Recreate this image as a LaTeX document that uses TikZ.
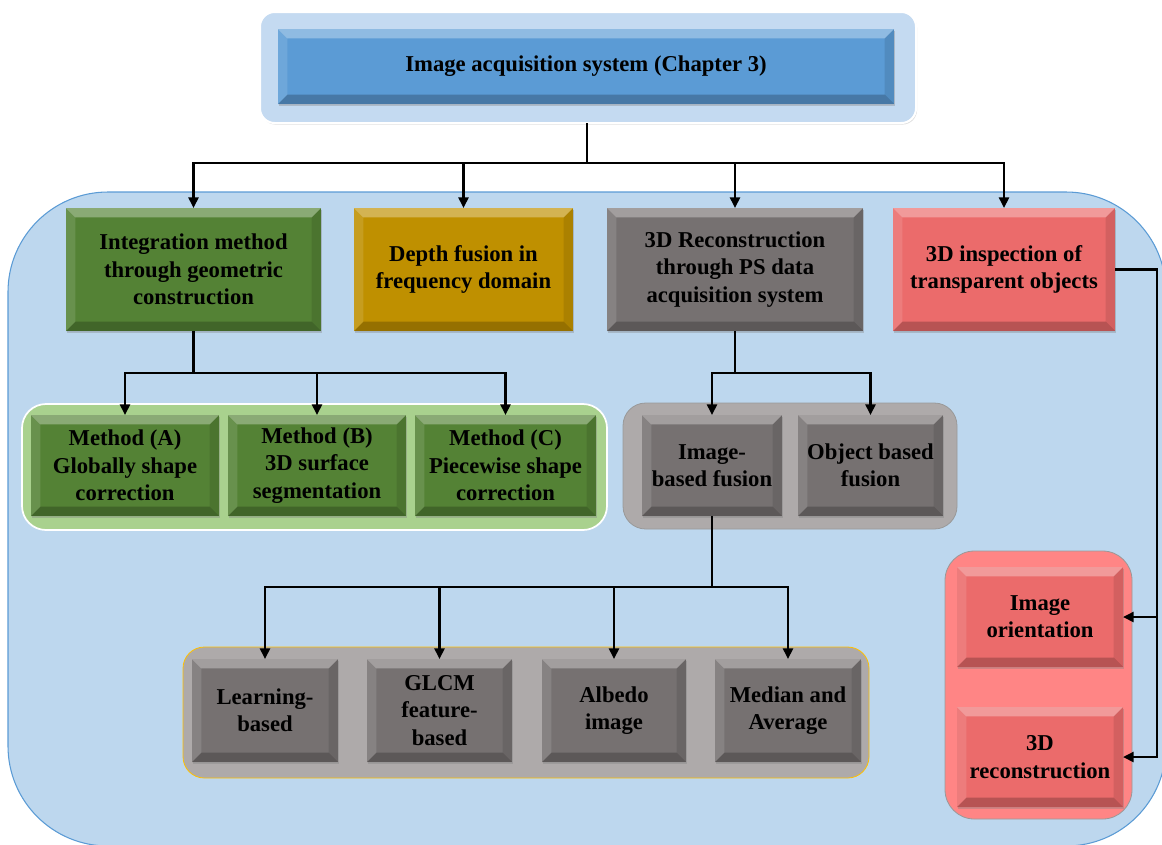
\documentclass[tikz,border=0pt]{standalone}
\usepackage{fontspec}
\setmainfont{Liberation Serif}
\usetikzlibrary{arrows.meta,shadows}

\definecolor{bgblue}{HTML}{BDD7EE}
\definecolor{bgedge}{HTML}{5B9BD5}
\definecolor{titleblue}{HTML}{5B9BD5}
\definecolor{outerblue}{HTML}{C4DAF1}
\definecolor{grn}{HTML}{548235}
\definecolor{grnlt}{HTML}{A9D18E}
\definecolor{gold}{HTML}{BF9000}
\definecolor{gry}{HTML}{767171}
\definecolor{grylt}{HTML}{AEAAAA}
\definecolor{rd}{HTML}{EB6B6B}
\definecolor{rdlt}{HTML}{FF8585}
\definecolor{amber}{HTML}{FFC000}

\newcommand\boxfont{\fontsize{17}{20.5}\selectfont\bfseries}

\tikzset{
  sz/.style 2 args={minimum width=#1*0.75pt, minimum height=#2*0.75pt},
  plainbox/.style={inner sep=0pt, outer sep=0pt},
  bevelbox/.style={plainbox, align=center, font=\boxfont, text=black,
    drop shadow={shadow xshift=1pt, shadow yshift=-1.5pt, opacity=.35},
    path picture={
      \fill[white,opacity=.32]
        (path picture bounding box.north west) -- (path picture bounding box.north east)
        -- ([shift={(-7pt,-7pt)}]path picture bounding box.north east)
        -- ([shift={(7pt,-7pt)}]path picture bounding box.north west) -- cycle;
      \fill[white,opacity=.12]
        (path picture bounding box.north west) -- (path picture bounding box.south west)
        -- ([shift={(7pt,7pt)}]path picture bounding box.south west)
        -- ([shift={(7pt,-7pt)}]path picture bounding box.north west) -- cycle;
      \fill[black,opacity=.10]
        (path picture bounding box.north east) -- (path picture bounding box.south east)
        -- ([shift={(-7pt,7pt)}]path picture bounding box.south east)
        -- ([shift={(-7pt,-7pt)}]path picture bounding box.north east) -- cycle;
      \fill[black,opacity=.22]
        (path picture bounding box.south west) -- (path picture bounding box.south east)
        -- ([shift={(-7pt,7pt)}]path picture bounding box.south east)
        -- ([shift={(7pt,7pt)}]path picture bounding box.south west) -- cycle;
    }},
  conn/.style={line width=1.9pt, black},
  arr/.style={conn, -{Triangle[length=8pt,width=7.5pt]}},
}

\begin{document}
\begin{tikzpicture}[x=0.75pt,y=-0.75pt]
\useasboundingbox (0,0) rectangle (1162,844);

% light blue panel behind the lower part
\begin{scope}
  \clip (0,0) rectangle (1162,844);
  \draw[fill=bgblue, draw=bgedge, line width=0.8pt, rounded corners=75pt]
    (8,192) rectangle (1166,846);
\end{scope}

% title
\node[plainbox, fill=outerblue, draw=white, line width=1.5pt, rounded corners=11pt,
      drop shadow={shadow xshift=0.8pt, shadow yshift=-1.2pt, opacity=.25}, sz={656}{111}]
      (sysframe) at (588,67.5) {};
\node[bevelbox, fill=titleblue, sz={616}{75}] (system) at (586,66.5)
      {Image acquisition system (Chapter 3)};

% group frames
\node[plainbox, fill=grnlt, draw=white, line width=1.3pt, rounded corners=18pt, sz={585}{126}]
      (methods) at (314.5,467) {};
\node[plainbox, fill=grylt, draw=gray!80, line width=0.6pt, rounded corners=17pt, sz={334}{126}]
      (fusions) at (790,466) {};
\node[plainbox, fill=grylt, draw=amber, line width=0.6pt, rounded corners=16pt, sz={686}{131}]
      (schemes) at (526,712.5) {};
\node[plainbox, fill=rdlt, draw=gray!80, line width=0.6pt, rounded corners=22pt, sz={187}{268}]
      (steps) at (1038.5,685) {};

% first level
\node[bevelbox, fill=grn, sz={255}{123}] (integ) at (193.5,269.5)
      {Integration method\\through geometric\\construction};
\node[bevelbox, fill=gold, sz={219}{123}] (depth) at (463.5,269.5)
      {Depth fusion in\\frequency domain};
\node[bevelbox, fill=gry, sz={256}{123}] (recon3d) at (735,269.5)
      {3D Reconstruction\\through PS data\\acquisition system};
\node[bevelbox, fill=rd, sz={222}{123}] (transp) at (1004,269.5)
      {3D inspection of\\transparent objects};

% integration methods
\node[bevelbox, fill=grn, sz={188}{101}] (ma) at (125,465.5)
      {Method (A)\\Globally shape\\correction};
\node[bevelbox, fill=grn, sz={178}{101}] (mb) at (317,465.5)
      {Method (B)\\3D surface\\segmentation};
\node[bevelbox, fill=grn, sz={181}{101}] (mc) at (505.5,465.5)
      {Method (C)\\Piecewise shape\\correction};

% fusion types
\node[bevelbox, fill=gry, sz={140}{101}] (imgf) at (712,465.5)
      {Image-\\based fusion};
\node[bevelbox, fill=gry, sz={145}{101}] (objf) at (870.5,465.5)
      {Object based\\fusion};

% image-based fusion schemes
\node[bevelbox, fill=gry, sz={146}{103}] (learn) at (265,710.5)
      {Learning-\\based};
\node[bevelbox, fill=gry, sz={145}{103}] (glcm) at (439.5,710.5)
      {GLCM\\feature-\\based};
\node[bevelbox, fill=gry, sz={144}{103}] (albedo) at (614,710.5)
      {Albedo\\image};
\node[bevelbox, fill=gry, sz={146}{103}] (median) at (788,710.5)
      {Median and\\Average};

% transparent object steps
\node[bevelbox, fill=rd, sz={166}{100}] (orient) at (1040,617)
      {Image\\orientation};
\node[bevelbox, fill=rd, sz={166}{100}] (trecon) at (1040,757)
      {3D\\reconstruction};

% connectors
\coordinate (bus1) at (587,163);
\draw[conn] (sysframe.south -| bus1) -- (bus1);
\foreach \t in {integ,depth,recon3d,transp}
  \draw[arr] (bus1) -| (\t.north);

\coordinate (bus2) at (193.5,373);
\draw[conn] (integ.south) -- (bus2);
\foreach \t in {ma,mb,mc}
  \draw[arr] (bus2) -| (\t.north);

\coordinate (bus3) at (735,373);
\draw[conn] (recon3d.south) -- (bus3);
\foreach \t in {imgf,objf}
  \draw[arr] (bus3) -| (\t.north);

\coordinate (bus4) at (712,587);
\draw[conn] (imgf.south) -- (bus4);
\foreach \t in {learn,glcm,albedo,median}
  \draw[arr] (bus4) -| (\t.north);

\coordinate (rail) at (1157,0);
\draw[arr] (transp.east) -- (transp.east -| rail) |- (orient.east);
\draw[arr] (transp.east) -- (transp.east -| rail) |- (trecon.east);
\end{tikzpicture}
\end{document}
